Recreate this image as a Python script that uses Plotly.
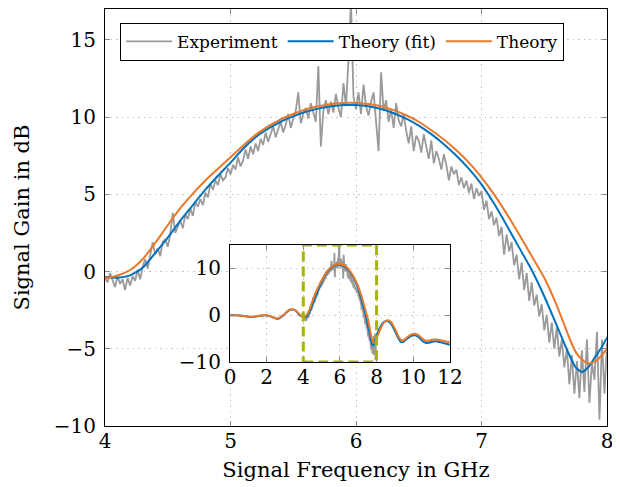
import numpy as np
import plotly.graph_objects as go

# ---------------- data ----------------
theory_x = [0.0, 0.4, 0.8, 1.2, 1.6, 1.9, 2.2, 2.6, 2.9, 3.2, 3.4, 3.6, 3.8,
            4.0, 4.1, 4.2, 4.3, 4.4, 4.5, 4.6, 4.7, 4.8, 4.9,
            5.0, 5.1, 5.2, 5.3, 5.4, 5.5, 5.6, 5.7, 5.8, 5.9,
            6.0, 6.1, 6.2, 6.3, 6.4, 6.5, 6.6, 6.7, 6.8, 6.9,
            7.0, 7.1, 7.2, 7.3, 7.4, 7.5, 7.6, 7.7, 7.75, 7.8, 7.85, 7.9, 7.95,
            8.0, 8.2, 8.4, 8.6, 8.8, 9.0, 9.2, 9.35, 9.5, 9.7, 9.9,
            10.1, 10.3, 10.5, 10.7, 10.9, 11.1, 11.3, 11.5, 11.8, 12.0]

theory_fit = [0.0, 0.0, -0.2, -0.4, -0.15, 0.0, -0.25, -0.8, -0.1, 1.0, 1.2, 0.9, 0.0,
              -0.35, -0.4, -0.25, 0.25, 1.2, 2.2, 3.3, 4.3, 5.3, 6.2,
              7.05, 7.95, 8.7, 9.25, 9.7, 10.05, 10.35, 10.55, 10.7, 10.78,
              10.78, 10.7, 10.52, 10.25, 9.9, 9.45, 8.9, 8.25, 7.5, 6.65,
              5.65, 4.4, 3.0, 1.55, 0.1, -1.6, -3.5, -5.4, -6.2, -6.5, -6.2, -5.6, -5.0,
              -4.3, -2.5, -1.45, -1.25, -1.9, -3.4, -5.0, -5.8, -5.6, -4.9, -4.4,
              -4.3, -4.7, -5.5, -5.95, -5.85, -5.6, -5.6, -5.8, -6.1, -6.3]

theory = [0.0, 0.0, -0.15, -0.35, -0.1, 0.05, -0.2, -0.7, 0.0, 1.1, 1.25, 1.0, 0.2,
          -0.4, -0.25, 0.1, 0.8, 1.85, 3.0, 4.1, 5.05, 5.9, 6.65,
          7.4, 8.15, 8.85, 9.4, 9.85, 10.2, 10.5, 10.7, 10.85, 10.92,
          10.92, 10.85, 10.7, 10.45, 10.12, 9.7, 9.15, 8.55, 7.85, 7.05,
          6.1, 5.0, 3.75, 2.4, 1.0, -0.4, -2.2, -4.3, -5.2, -5.7, -5.95, -5.85, -5.5,
          -5.0, -3.0, -1.6, -1.1, -1.5, -2.9, -4.6, -5.35, -5.3, -4.6, -4.1,
          -3.95, -4.3, -5.0, -5.5, -5.4, -5.2, -5.2, -5.35, -5.6, -5.8]

exp_x = np.round(np.linspace(4.0, 8.0, 201), 2)
experiment = [
    -0.4, -0.7, -0.1, -0.6, -1.0, -0.3, -0.8, -0.5, -1.2, -0.4,
    -0.9, -0.3, -0.6, 0.1, -0.5, 0.3, 0.8, 0.2, 1.2, 1.9,
    1.1, 1.5, 1.0, 1.9, 2.1, 1.6, 2.4, 3.8, 2.5, 2.9,
    3.3, 2.8, 3.7, 3.4, 4.1, 3.6, 4.5, 4.2, 4.7, 4.3,
    5.1, 4.8, 5.7, 5.3, 5.9, 5.6, 6.3, 5.9, 6.1, 6.7,
    6.3, 6.9, 6.6, 7.4, 6.8, 7.2, 7.9, 7.3, 8.1, 7.6,
    8.3, 7.8, 8.6, 8.2, 9.0, 8.4, 8.9, 9.4, 8.7, 9.2,
    9.7, 9.0, 9.5, 10.2, 9.3, 9.9, 10.4, 11.6, 9.6, 10.2,
    10.6, 9.9, 10.9, 10.3, 9.7, 13.3, 8.1, 10.4, 11.1, 10.2,
    11.0, 10.3, 11.5, 10.6, 10.0, 12.2, 10.7, 13.7, 17.5, 11.3,
    10.5, 11.6, 10.2, 12.1, 10.7, 10.1, 11.0, 11.6, 9.9, 7.8,
    12.9, 10.4, 11.1, 9.7, 10.5, 9.3, 10.9, 9.8, 9.4, 10.2,
    9.1, 8.3, 9.4, 7.8, 8.8, 8.5, 7.7, 8.9, 8.1, 7.3,
    8.5, 7.0, 7.8, 7.3, 6.6, 7.6, 6.9, 5.9, 6.8, 6.3,
    6.6, 5.6, 6.1, 5.4, 5.9, 5.1, 5.7, 4.7, 5.4, 4.9,
    5.2, 4.0, 4.6, 3.4, 3.9, 3.0, 3.5, 2.3, 2.9, 1.1,
    2.4, 1.3, 1.9, 0.4, 1.1, -0.5, 0.6, -1.2, -0.1, -1.9,
    -0.7, -2.2, -1.5, -2.9, -2.1, -3.8, -2.8, -4.6, -3.3, -5.0,
    -3.6, -5.5, -4.4, -6.2, -5.0, -7.3, -5.4, -7.9, -5.8, -8.2,
    -5.1, -7.8, -4.4, -8.5, -5.9, -7.0, -3.9, -9.6, -4.4, -7.9,
    -4.6]

main_xticks = [4, 5, 6, 7, 8]
main_yticks = [-10, -5, 0, 5, 10, 15]
inset_xticks = [0, 2, 4, 6, 8, 10, 12]
inset_yticks = [-10, 0, 10]

# ---------------- styles ----------------
GRAY = "#9a9a9a"
BLUE = "#0072BD"
ORANGE = "#E8792B"
OLIVE = "#A8B400"
FONT = "DejaVu Serif"

fig = go.Figure()

fig.add_trace(go.Scatter(x=exp_x, y=experiment, mode="lines", name="Experiment",
                         line=dict(color=GRAY, width=1.8), xaxis="x", yaxis="y"))
fig.add_trace(go.Scatter(x=theory_x, y=theory_fit, mode="lines", name="Theory (fit)",
                         line=dict(color=BLUE, width=2, shape="spline", smoothing=0.6),
                         xaxis="x", yaxis="y"))
fig.add_trace(go.Scatter(x=theory_x, y=theory, mode="lines", name="Theory",
                         line=dict(color=ORANGE, width=2, shape="spline", smoothing=0.6),
                         xaxis="x", yaxis="y"))

# inset
fig.add_trace(go.Scatter(x=exp_x, y=experiment, mode="lines", showlegend=False,
                         line=dict(color=GRAY, width=1.8), xaxis="x2", yaxis="y2"))
fig.add_trace(go.Scatter(x=theory_x, y=theory_fit, mode="lines", showlegend=False,
                         line=dict(color=BLUE, width=2, shape="spline", smoothing=0.6),
                         xaxis="x2", yaxis="y2"))
fig.add_trace(go.Scatter(x=theory_x, y=theory, mode="lines", showlegend=False,
                         line=dict(color=ORANGE, width=2, shape="spline", smoothing=0.6),
                         xaxis="x2", yaxis="y2"))

common_axis = dict(showline=True, linecolor="black", linewidth=1, mirror="allticks",
                   ticks="inside", ticklen=5, tickcolor="#8a8a8a", tickwidth=1,
                   showgrid=True, gridcolor="#c4c4c4", griddash="1.5px,4px", gridwidth=1,
                   zeroline=False, automargin=False,
                   tickfont=dict(family=FONT, size=20, color="black"))

fig.update_layout(
    template="none",
    width=620, height=487,
    margin=dict(l=97, r=21, t=1, b=69),
    paper_bgcolor="white", plot_bgcolor="white",
    font=dict(family=FONT, size=20, color="black"),
    showlegend=True,
    legend=dict(orientation="h", x=0.03, y=0.967, xanchor="left", yanchor="top",
                bgcolor="white", bordercolor="black", borderwidth=1,
                font=dict(family=FONT, size=17, color="black"),
                itemwidth=46, tracegroupgap=0),
    xaxis=dict(domain=[0, 1], range=[4, 8], tickvals=main_xticks, anchor="y",
               ticklabelstandoff=-3,
               title=dict(text="Signal Frequency in GHz", font=dict(size=21), standoff=10),
               **common_axis),
    yaxis=dict(domain=[0, 1], range=[-10, 17], tickvals=main_yticks, anchor="x",
               ticklabelstandoff=4,
               title=dict(text="Signal Gain in dB", font=dict(size=21), standoff=18),
               **common_axis),
    xaxis2=dict(domain=[0.249, 0.687], range=[0, 12], tickvals=inset_xticks, anchor="y2",
                ticklabelstandoff=-3, **common_axis),
    yaxis2=dict(domain=[0.1535, 0.434], range=[-10, 15], tickvals=inset_yticks, anchor="x2",
                ticklabelstandoff=4, **common_axis),
    shapes=[dict(type="rect", xref="x2", yref="y2", x0=4, x1=8, y0=-10, y1=15,
                 line=dict(color=OLIVE, width=3, dash="10px,5px"), layer="above")],
)

fig.write_html("out.html")
